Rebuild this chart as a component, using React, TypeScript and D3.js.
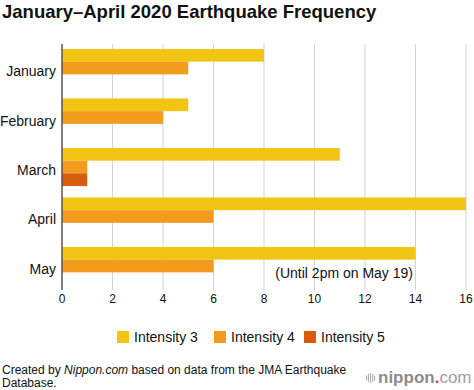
import React, { useEffect, useRef } from "react";
import * as d3 from "d3";

const months = ["January", "February", "March", "April", "May"];
const seriesNames = ["Intensity 3", "Intensity 4", "Intensity 5"];
const intensity3 = [8, 5, 11, 16, 14];
const intensity4 = [5, 4, 1, 6, 6];
const intensity5 = [0, 0, 1, 0, 0];
const xTicks = [0, 2, 4, 6, 8, 10, 12, 14, 16];
const colors = ["#f2c414", "#f39b1c", "#d95b0c"];

const FONT = "'Liberation Sans', Arial, Helvetica, sans-serif";

const EarthquakeChart: React.FC = () => {
    const svgRef = useRef<SVGSVGElement | null>(null);

    useEffect(() => {
        if (!svgRef.current) return;
        const svg = d3.select(svgRef.current);
        svg.selectAll("*").remove();

        const width = 474;
        const height = 390;
        const plot = { left: 62, right: 466, top: 44, bottom: 290 };

        const values = [intensity3, intensity4, intensity5];

        const x = d3.scaleLinear().domain([0, 16]).range([plot.left, plot.right]);
        const y = d3
            .scaleBand()
            .domain(months)
            .range([plot.top, plot.bottom])
            .paddingInner(0.23)
            .paddingOuter(0.1);
        const sub = d3
            .scaleBand()
            .domain(seriesNames)
            .range([0, y.bandwidth()]);

        svg.attr("width", width).attr("height", height);

        // title
        svg.append("text")
            .attr("x", 2)
            .attr("y", 18)
            .text("January\u2013April 2020 Earthquake Frequency")
            .style("font-family", FONT)
            .attr("font-weight", "bold")
            .attr("font-size", "18.5px")
            .attr("fill", "#111");

        // grid lines
        svg.append("g")
            .selectAll("line")
            .data(xTicks.filter((t) => t > 0))
            .join("line")
            .attr("x1", (d) => x(d))
            .attr("x2", (d) => x(d))
            .attr("y1", plot.top)
            .attr("y2", plot.bottom)
            .attr("stroke", "#d2d2d2")
            .attr("stroke-width", 1);

        // bars
        seriesNames.forEach((name, si) => {
            svg.append("g")
                .selectAll("rect")
                .data(months.map((m, i) => ({ m, v: values[si][i] })).filter((d) => d.v > 0))
                .join("rect")
                .attr("x", x(0))
                .attr("y", (d) => y(d.m)! + sub(name)!)
                .attr("width", (d) => x(d.v) - x(0))
                .attr("height", sub.bandwidth())
                .attr("fill", colors[si]);
        });

        // y axis line
        svg.append("line")
            .attr("x1", plot.left)
            .attr("x2", plot.left)
            .attr("y1", plot.top)
            .attr("y2", plot.bottom)
            .attr("stroke", "#555")
            .attr("stroke-width", 1.5);

        // month labels
        svg.append("g")
            .selectAll("text")
            .data(months)
            .join("text")
            .attr("x", 56)
            .attr("y", (d) => y(d)! + y.bandwidth() / 2 + 8)
            .attr("text-anchor", "end")
            .text((d) => d)
            .style("font-family", FONT)
            .attr("font-size", "14px")
            .attr("fill", "#111");

        // x tick labels
        svg.append("g")
            .selectAll("text")
            .data(xTicks)
            .join("text")
            .attr("x", (d) => x(d))
            .attr("y", 303)
            .attr("text-anchor", "middle")
            .text((d) => d)
            .style("font-family", FONT)
            .attr("font-size", "12px")
            .attr("fill", "#111");

        // note
        svg.append("text")
            .attr("x", 413)
            .attr("y", 278)
            .attr("text-anchor", "end")
            .text("(Until 2pm on May 19)")
            .style("font-family", FONT)
            .attr("font-size", "14px")
            .attr("fill", "#111");

        // legend
        const legendX = [117, 214, 304];
        const legend = svg.append("g")
            .selectAll("g")
            .data(seriesNames)
            .join("g")
            .attr("transform", (_d, i) => `translate(${legendX[i]},331)`);
        legend.append("rect")
            .attr("width", 12)
            .attr("height", 12)
            .attr("fill", (_d, i) => colors[i]);
        legend.append("text")
            .attr("x", 17)
            .attr("y", 11)
            .text((d) => d)
            .style("font-family", FONT)
            .attr("font-size", "14px")
            .attr("fill", "#111");

        // source
        const src = svg.append("text")
            .attr("x", 2)
            .attr("y", 374)
            .style("font-family", FONT)
            .attr("font-size", "12px")
            .attr("fill", "#111");
        src.append("tspan").text("Created by ");
        src.append("tspan").attr("font-style", "italic").text("Nippon.com");
        src.append("tspan").text(" based on data from the JMA Earthquake");
        svg.append("text")
            .attr("x", 2)
            .attr("y", 387)
            .text("Database.")
            .style("font-family", FONT)
            .attr("font-size", "12px")
            .attr("fill", "#111");

        // logo
        const logo = svg.append("g");
        const barH = [5, 8, 10, 8, 5];
        logo.selectAll("rect")
            .data(barH)
            .join("rect")
            .attr("x", (_d, i) => 366 + i * 2)
            .attr("y", (d) => 378 - d / 2)
            .attr("width", 1.2)
            .attr("height", (d) => d)
            .attr("fill", "#b5b5b5");
        const lt = logo.append("text")
            .attr("x", 378)
            .attr("y", 383)
            .style("font-family", FONT)
            .attr("font-size", "17px");
        lt.append("tspan").attr("font-weight", "bold").attr("fill", "#8c8c8c").text("nippon");
        lt.append("tspan").attr("font-weight", "bold").attr("fill", "#e8382f").text(".");
        lt.append("tspan").attr("fill", "#a0a0a0").text("com");
    }, []);

    return (
        <div style={{ position: "absolute", left: 0, top: 0, background: "#fff" }}>
            <svg ref={svgRef} style={{ display: "block" }}></svg>
        </div>
    );
};

export default function App() {
    return <EarthquakeChart />;
}
